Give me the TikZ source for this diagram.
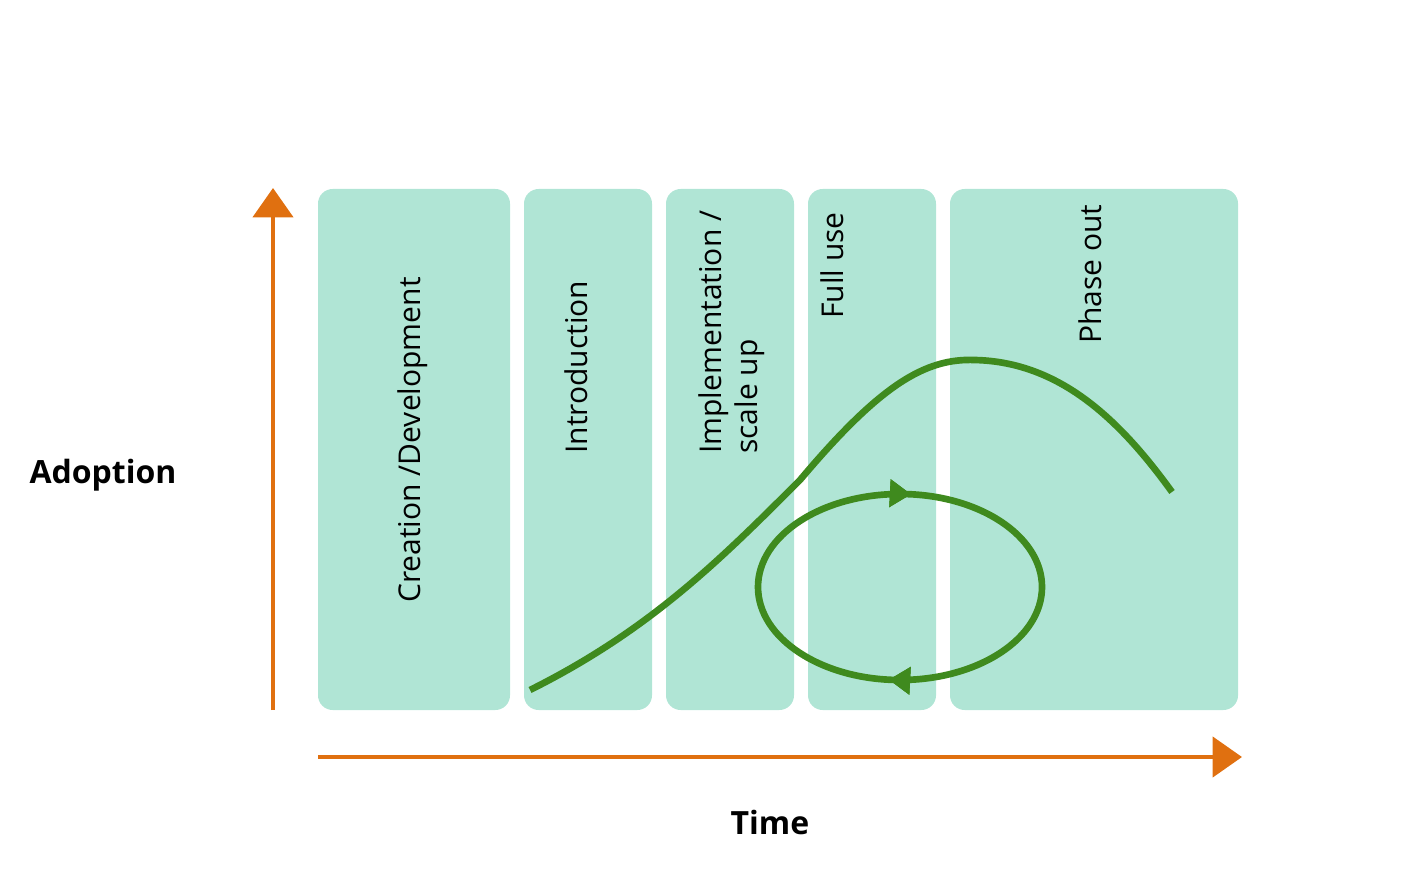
\documentclass[tikz,border=0pt]{standalone}
\usepackage{fontspec}
\setmainfont{Open Sans}
\usetikzlibrary{arrows.meta,decorations.markings}
\definecolor{panelgreen}{HTML}{B0E5D5}
\definecolor{axisorange}{HTML}{E07010}
\definecolor{curvegreen}{HTML}{3F8A1E}
\begin{document}
\begin{tikzpicture}
            [
            x=0.75pt, y=-0.75pt,
            phase/.style={fill=panelgreen, rounded corners=11pt},
            phase text/.style={rotate=90, anchor=north west, font=\fontsize{22.5}{27}\selectfont, align=left, inner sep=0pt},
            axis/.style={axisorange, line width=3.2pt, -{Triangle[width=30pt,length=22pt]}},
            trend/.style={curvegreen, line width=5pt},
            turn/.style={postaction={decorate}, decoration={markings,
                mark=at position #1 with {\arrow{Triangle[width=20pt,length=16pt]}}}}
            ]

            \useasboundingbox (0,0) rectangle (1401,884);

            % Phase panels
            \fill [phase] (318,189) rectangle (510,710);
            \fill [phase] (524,189) rectangle (652,710);
            \fill [phase] (666,189) rectangle (794,710);
            \fill [phase] (808,189) rectangle (936,710);
            \fill [phase] (950,189) rectangle (1238,710);

            \node (creation) [phase text] at (397,603) {Creation /Development};
            \node (intro) [phase text] at (564,454) {Introduction};
            \node (impl) [phase text] at (698,454) {Implementation /\\scale up};
            \node (full) [phase text] at (820,319) {Full use};
            \node (phaseout) [phase text] at (1078,344) {Phase out};

            % Axes
            \coordinate (origin) at (273,710);
            \coordinate (ytop) at (273,188);
            \coordinate (xstart) at (318,757);
            \coordinate (xend) at (1242,757);
            \draw [axis] (origin) -- (ytop);
            \draw [axis] (xstart) -- (xend);

            \node (adoption) [font=\fontsize{24}{28}\selectfont\bfseries] at (103,475) {Adoption};
            \node (time) [font=\fontsize{24}{28}\selectfont\bfseries] at (770,822) {Time};

            % Adoption curve
            \draw [trend] (530,690) .. controls (650,630) and (720,560) .. (800,480)
                .. controls (880,385) and (925,358) .. (975,360)
                .. controls (1060,362) and (1120,420) .. (1172,492);

            % Feedback loop
            \draw [trend, turn=0.265, turn=0.765] (900,587) ellipse [x radius=142, y radius=93];

        \end{tikzpicture}
\end{document}
